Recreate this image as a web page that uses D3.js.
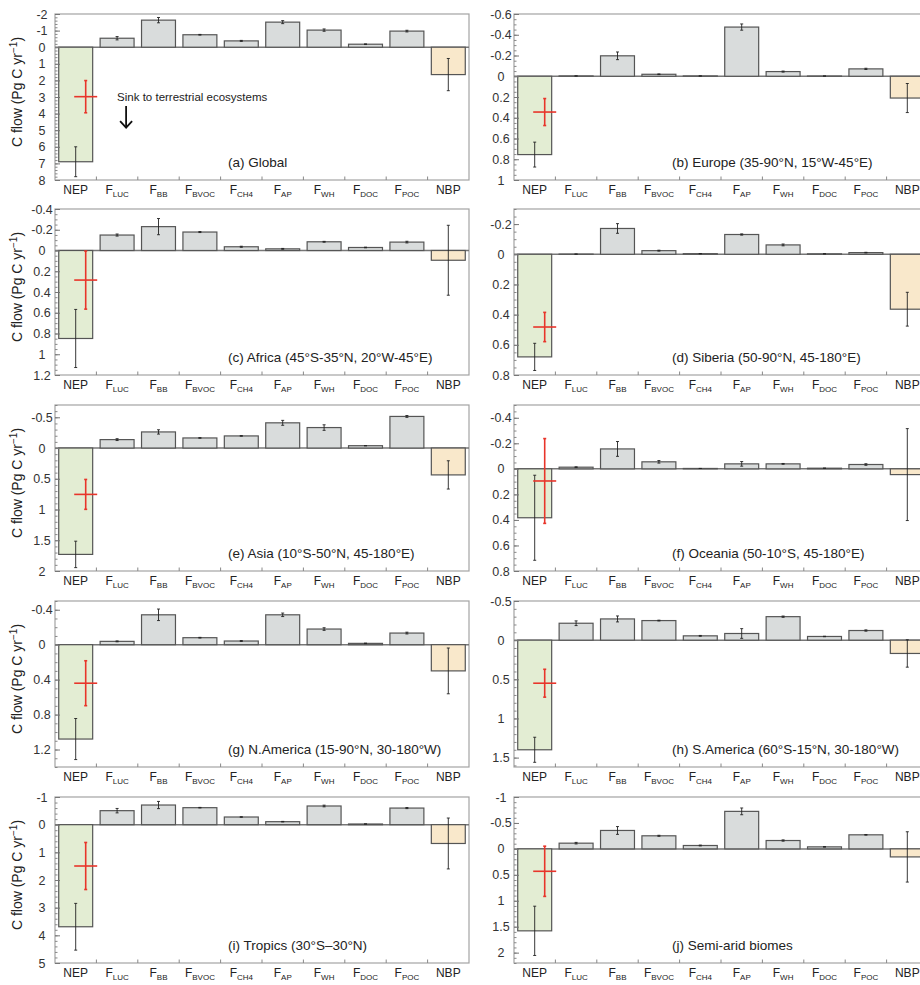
<!DOCTYPE html>
<html>
<head>
<meta charset="utf-8">
<script src="https://cdn.jsdelivr.net/npm/d3@7"></script>
<style>
body { margin: 0; background: #fff; }
svg { display: block; font-family: "Liberation Sans", Arial, sans-serif; }
</style>
</head>
<body>
<svg id="chart" width="920" height="985"></svg>
<script>
// categories on the x axis (underscore marks a subscript)
var categories = ["NEP", "F_LUC", "F_BB", "F_BVOC", "F_CH4", "F_AP", "F_WH", "F_DOC", "F_POC", "NBP"];

var panelTitles = [
  "(a) Global",
  "(b) Europe (35-90°N, 15°W-45°E)",
  "(c) Africa (45°S-35°N, 20°W-45°E)",
  "(d) Siberia (50-90°N, 45-180°E)",
  "(e) Asia (10°S-50°N, 45-180°E)",
  "(f) Oceania (50-10°S, 45-180°E)",
  "(g) N.America (15-90°N, 30-180°W)",
  "(h) S.America (60°S-15°N, 30-180°W)",
  "(i) Tropics (30°S–30°N)",
  "(j) Semi-arid biomes"
];

// y domains (positive = sink, drawn downward), major and minor tick steps
var yDomains = [[-2, 8], [-0.6, 1], [-0.4, 1.2], [-0.3, 0.8], [-0.7, 2], [-0.5, 0.8], [-0.5, 1.4], [-0.5, 1.62], [-1, 5], [-1, 2.2]];
var majorSteps = [1, 0.2, 0.2, 0.2, 0.5, 0.2, 0.4, 0.5, 1, 0.5];
var minorSteps = [0.2, 0.05, 0.05, 0.05, 0.1, 0.05, 0.1, 0.1, 0.2, 0.1];

// carbon flows, Pg C / yr, and their uncertainties
var globalFlow   = [6.9, -0.54, -1.63, -0.75, -0.38, -1.51, -1.03, -0.18, -0.97, 1.65];
var globalErr    = [0.9, 0.1, 0.16, 0.02, 0.03, 0.09, 0.07, 0.02, 0.05, 0.97];
var europeFlow   = [0.755, -0.003, -0.197, -0.019, -0.003, -0.474, -0.045, -0.002, -0.071, 0.21];
var europeErr    = [0.12, 0, 0.037, 0.003, 0, 0.03, 0.005, 0, 0.006, 0.14];
var africaFlow   = [0.848, -0.149, -0.23, -0.178, -0.036, -0.016, -0.084, -0.029, -0.081, 0.094];
var africaErr    = [0.28, 0.01, 0.078, 0.005, 0.005, 0.004, 0.004, 0.003, 0.008, 0.337];
var siberiaFlow  = [0.68, -0.001, -0.171, -0.024, -0.004, -0.131, -0.062, -0.003, -0.011, 0.364];
var siberiaErr   = [0.09, 0, 0.032, 0.003, 0.001, 0.004, 0.006, 0.001, 0.002, 0.112];
var asiaFlow     = [1.73, -0.137, -0.262, -0.164, -0.197, -0.41, -0.333, -0.038, -0.514, 0.437];
var asiaErr      = [0.215, 0.015, 0.035, 0.005, 0.005, 0.04, 0.045, 0.003, 0.015, 0.23];
var oceaniaFlow  = [0.383, -0.013, -0.156, -0.055, -0.003, -0.039, -0.039, -0.005, -0.034, 0.045];
var oceaniaErr   = [0.333, 0.003, 0.058, 0.01, 0, 0.018, 0.003, 0, 0.006, 0.36];
var nAmericaFlow = [1.08, -0.038, -0.342, -0.08, -0.042, -0.342, -0.179, -0.015, -0.133, 0.30];
var nAmericaErr  = [0.235, 0.005, 0.066, 0.004, 0.005, 0.02, 0.015, 0.003, 0.01, 0.262];
var sAmericaFlow = [1.40, -0.216, -0.271, -0.25, -0.055, -0.085, -0.30, -0.047, -0.123, 0.17];
var sAmericaErr  = [0.16, 0.03, 0.038, 0.005, 0.005, 0.062, 0.008, 0.003, 0.008, 0.175];
var tropicsFlow  = [3.69, -0.506, -0.71, -0.614, -0.277, -0.108, -0.675, -0.024, -0.60, 0.68];
var tropicsErr   = [0.845, 0.08, 0.13, 0.01, 0.01, 0.01, 0.03, 0.003, 0.02, 0.92];
var semiAridFlow = [1.58, -0.11, -0.355, -0.252, -0.065, -0.723, -0.161, -0.039, -0.271, 0.155];
var semiAridErr  = [0.475, 0.015, 0.075, 0.01, 0.008, 0.065, 0.012, 0.005, 0.006, 0.485];

// red cross on the NEP bar, one per panel
var crossMean = [2.98, 0.345, 0.285, 0.482, 0.754, 0.095, 0.441, 0.55, 1.494, 0.432];
var crossErr  = [0.97, 0.13, 0.28, 0.097, 0.243, 0.332, 0.257, 0.178, 0.85, 0.484];

var flows = [globalFlow, europeFlow, africaFlow, siberiaFlow, asiaFlow, oceaniaFlow, nAmericaFlow, sAmericaFlow, tropicsFlow, semiAridFlow];
var errs = [globalErr, europeErr, africaErr, siberiaErr, asiaErr, oceaniaErr, nAmericaErr, sAmericaErr, tropicsErr, semiAridErr];

var colX = [55, 514];
var rowY = [14, 209, 405, 601, 797];
var plotW = 414, plotH = 166;
var titleX = [173, 158];

var fillNEP = "#e3edd3", fillNBP = "#f9e8cb", fillGray = "#d9dcdc";

function stepTicks(dom, step) {
  var k0 = Math.ceil(dom[0] / step - 1e-9), k1 = Math.floor(dom[1] / step + 1e-9);
  return d3.range(k0, k1 + 1).map(function (k) { return +(k * step).toFixed(4); });
}
function fmt(v) { return String(+v.toFixed(3)); }

var svg = d3.select("#chart");

flows.forEach(function (vals, i) {
  var col = i % 2, row = Math.floor(i / 2);
  var g = svg.append("g").attr("transform", "translate(" + colX[col] + "," + rowY[row] + ")");

  var x = d3.scaleBand().domain(categories).range([0, plotW]).paddingInner(0.18).paddingOuter(0.09);
  var y = d3.scaleLinear().domain(yDomains[i]).range([0, plotH]);
  var err = errs[i];

  // frame
  g.append("rect").attr("width", plotW).attr("height", plotH)
    .attr("fill", "none").attr("stroke", "#a3a3a3").attr("stroke-width", 1.2);

  // zero line
  g.append("line").attr("x1", 0).attr("x2", plotW).attr("y1", y(0)).attr("y2", y(0))
    .attr("stroke", "#777").attr("stroke-width", 1.5);

  // bars
  g.selectAll("rect.bar").data(vals).enter().append("rect")
    .attr("class", "bar")
    .attr("x", function (d, j) { return x(categories[j]); })
    .attr("width", x.bandwidth())
    .attr("y", function (d) { return y(Math.min(0, d)); })
    .attr("height", function (d) { return Math.abs(y(d) - y(0)); })
    .attr("fill", function (d, j) { return j === 0 ? fillNEP : (j === 9 ? fillNBP : fillGray); })
    .attr("stroke", "#555").attr("stroke-width", 1.2);

  // error bars
  var eb = g.selectAll("g.err").data(vals).enter().append("g").attr("class", "err")
    .attr("stroke", "#222").attr("stroke-width", 0.9);
  eb.append("line")
    .attr("x1", function (d, j) { return x(categories[j]) + x.bandwidth() / 2; })
    .attr("x2", function (d, j) { return x(categories[j]) + x.bandwidth() / 2; })
    .attr("y1", function (d, j) { return y(d - err[j]); })
    .attr("y2", function (d, j) { return y(d + err[j]); });
  [-1, 1].forEach(function (s) {
    eb.append("line")
      .attr("x1", function (d, j) { return x(categories[j]) + x.bandwidth() / 2 - 1.5; })
      .attr("x2", function (d, j) { return x(categories[j]) + x.bandwidth() / 2 + 1.5; })
      .attr("y1", function (d, j) { return y(d + s * err[j]); })
      .attr("y2", function (d, j) { return y(d + s * err[j]); });
  });

  // red cross
  var cx = x("NEP") + x.bandwidth() / 2 + 10;
  var rc = g.append("g").attr("stroke", "#e8352a").attr("stroke-width", 1.6);
  rc.append("line").attr("x1", cx - 11.5).attr("x2", cx + 11.5)
    .attr("y1", y(crossMean[i])).attr("y2", y(crossMean[i]));
  rc.append("line").attr("x1", cx).attr("x2", cx)
    .attr("y1", y(crossMean[i] - crossErr[i])).attr("y2", y(crossMean[i] + crossErr[i]));
  [-1, 1].forEach(function (s) {
    rc.append("line").attr("x1", cx - 1.5).attr("x2", cx + 1.5)
      .attr("y1", y(crossMean[i] + s * crossErr[i])).attr("y2", y(crossMean[i] + s * crossErr[i]));
  });

  // y axis: minor then major ticks
  var minorAx = g.append("g").call(d3.axisLeft(y).tickValues(stepTicks(yDomains[i], minorSteps[i]))
    .tickSize(-2.5).tickFormat(""));
  minorAx.select(".domain").remove();
  minorAx.selectAll("line").attr("stroke", "#888");

  var majorAx = g.append("g").call(d3.axisLeft(y).tickValues(stepTicks(yDomains[i], majorSteps[i]))
    .tickSize(-5).tickFormat(fmt));
  majorAx.select(".domain").remove();
  majorAx.selectAll("line").attr("stroke", "#777");
  majorAx.selectAll("text").attr("x", -13).attr("text-anchor", "middle")
    .attr("font-size", 12.5).attr("font-family", "Liberation Sans, Arial, sans-serif").attr("fill", "#333");

  // x axis labels with subscripts
  var xAx = g.append("g").attr("transform", "translate(0," + plotH + ")")
    .call(d3.axisBottom(x).tickSize(0).tickPadding(4));
  xAx.select(".domain").remove();
  xAx.selectAll("text").each(function (d) {
    var t = d3.select(this).text("").attr("dy", 0).attr("y", 14)
      .attr("font-size", 12).attr("font-family", "Liberation Sans, Arial, sans-serif").attr("fill", "#222");
    var parts = d.split("_");
    t.append("tspan").text(parts[0]);
    if (parts[1]) t.append("tspan").attr("font-size", 8).attr("dy", 3).attr("fill", "#222").text(parts[1]);
  });

  // boundary ticks between categories
  g.selectAll("line.btick").data(categories.slice(1)).enter().append("line")
    .attr("class", "btick")
    .attr("x1", function (c) { return x(c) - (x.step() - x.bandwidth()) / 2; })
    .attr("x2", function (c) { return x(c) - (x.step() - x.bandwidth()) / 2; })
    .attr("y1", plotH).attr("y2", plotH - 3.5)
    .attr("stroke", "#888");

  // panel title
  g.append("text").attr("x", titleX[col]).attr("y", plotH - 13)
    .attr("font-size", 13.5).attr("fill", "#222").text(panelTitles[i]);

  // y label on the left column
  if (col === 0) {
    var yl = g.append("text").attr("transform", "translate(-33," + (plotH / 2 - 5) + ") rotate(-90)")
      .attr("text-anchor", "middle").attr("font-size", 14).attr("fill", "#222");
    yl.append("tspan").text("C flow (Pg C yr");
    yl.append("tspan").attr("font-size", 10).attr("dy", -5).text("−1");
    yl.append("tspan").attr("dy", 5).text(")");
  }

  // annotation in the global panel
  if (i === 0) {
    var ax0 = x("F_LUC") + x.bandwidth() / 2;
    g.append("text").attr("x", ax0).attr("y", y(3.22))
      .attr("font-size", 11.5).attr("fill", "#222").text("Sink to terrestrial ecosystems");
    var ag = g.append("g").attr("stroke", "#111").attr("stroke-width", 1.8).attr("fill", "none");
    ag.append("line").attr("x1", ax0 + 9).attr("x2", ax0 + 9).attr("y1", y(3.54)).attr("y2", y(4.85));
    ag.append("path").attr("d", d3.line()([[ax0 + 3, y(4.45)], [ax0 + 9, y(4.85)], [ax0 + 15, y(4.45)]]));
  }
});
</script>
</body>
</html>
